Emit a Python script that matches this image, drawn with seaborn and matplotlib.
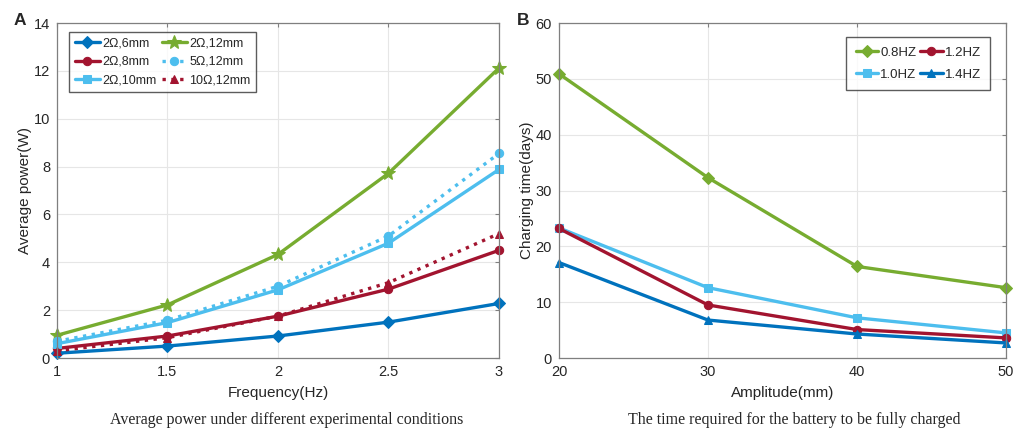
import numpy as np
import pandas as pd
import matplotlib
matplotlib.use("Agg")
import matplotlib.pyplot as plt
import seaborn as sns

# ---- data ----
freq = [1, 1.5, 2, 2.5, 3]
p_2ohm_6mm = [0.2, 0.5, 0.92, 1.5, 2.28]
p_2ohm_8mm = [0.4, 0.92, 1.75, 2.88, 4.5]
p_2ohm_10mm = [0.6, 1.48, 2.85, 4.8, 7.88]
p_2ohm_12mm = [0.95, 2.22, 4.33, 7.72, 12.12]
p_5ohm_12mm = [0.7, 1.58, 3.0, 5.1, 8.55]
p_10ohm_12mm = [0.3, 0.85, 1.75, 3.15, 5.2]

amplitude = [20, 30, 40, 50]
t_08hz = [50.9, 32.3, 16.4, 12.6]
t_10hz = [23.3, 12.6, 7.2, 4.5]
t_12hz = [23.2, 9.5, 5.1, 3.6]
t_14hz = [17.1, 6.8, 4.3, 2.7]

BLUE = "#0072BD"
RED = "#A2142F"
LBLUE = "#4DBEEE"
GREEN = "#77AC30"

sns.set_style("whitegrid")
plt.rcParams["font.family"] = ["Liberation Sans", "DejaVu Sans"]
plt.rcParams["xtick.direction"] = "in"
plt.rcParams["ytick.direction"] = "in"

fig = plt.figure(figsize=(10.14, 4.30), dpi=100)
axA = fig.add_axes([0.0562, 0.1674, 0.4359, 0.779])
axB = fig.add_axes([0.5513, 0.1674, 0.4408, 0.779])

# panel A
seriesA = [
    ("2Ω,6mm", p_2ohm_6mm, BLUE, "D", "-"),
    ("2Ω,8mm", p_2ohm_8mm, RED, "o", "-"),
    ("2Ω,10mm", p_2ohm_10mm, LBLUE, "s", "-"),
    ("2Ω,12mm", p_2ohm_12mm, GREEN, "*", "-"),
    ("5Ω,12mm", p_5ohm_12mm, LBLUE, "o", ":"),
    ("10Ω,12mm", p_10ohm_12mm, RED, "^", ":"),
]
for name, vals, col, mk, ls in seriesA:
    ms = 10 if mk == "*" else 6
    sns.lineplot(x=freq, y=vals, ax=axA, color=col, marker=mk, linestyle=ls,
                 linewidth=2.4, markersize=ms, markeredgecolor=col, label=name,
                 clip_on=False)

axA.set_xlim(1, 3)
axA.set_ylim(0, 14)
axA.set_xticks([1, 1.5, 2, 2.5, 3])
axA.set_xticklabels(["1", "1.5", "2", "2.5", "3"])
axA.set_yticks(range(0, 15, 2))
axA.set_xlabel("Frequency(Hz)", fontsize=11, color="#262626", labelpad=5)
axA.set_ylabel("Average power(W)", fontsize=11, color="#262626", labelpad=1)
axA.legend(loc="upper left", ncol=2, fontsize=9, frameon=True, fancybox=False,
           edgecolor="#333333", handlelength=2.0, handletextpad=0.2,
           columnspacing=0.45, labelspacing=0.5, borderpad=0.45,
           borderaxespad=0, bbox_to_anchor=(0.027, 0.973))

# panel B
seriesB = [
    ("0.8HZ", t_08hz, GREEN, "D"),
    ("1.0HZ", t_10hz, LBLUE, "s"),
    ("1.2HZ", t_12hz, RED, "o"),
    ("1.4HZ", t_14hz, BLUE, "^"),
]
for name, vals, col, mk in seriesB:
    sns.lineplot(x=amplitude, y=vals, ax=axB, color=col, marker=mk,
                 linewidth=2.4, markersize=6, markeredgecolor=col, label=name,
                 clip_on=False)

axB.set_xlim(20, 50)
axB.set_ylim(0, 60)
axB.set_xticks(amplitude)
axB.set_yticks(range(0, 61, 10))
axB.set_xlabel("Amplitude(mm)", fontsize=11, color="#262626", labelpad=5)
axB.set_ylabel("Charging time(days)", fontsize=11, color="#262626", labelpad=1)
axB.legend(loc="upper right", ncol=2, fontsize=9.5, frameon=True, fancybox=False,
           edgecolor="#333333", handlelength=1.7, handletextpad=0.15,
           columnspacing=0.3, labelspacing=0.75, borderpad=0.7,
           borderaxespad=0, bbox_to_anchor=(0.964, 0.958))

for ax in (axA, axB):
    ax.grid(True, color="#e6e6e6", linewidth=0.8)
    for sp in ax.spines.values():
        sp.set_color("#7f7f7f")
        sp.set_linewidth(0.9)
    ax.tick_params(axis="both", labelsize=10.5, colors="#262626", length=3,
                   top=True, right=True, color="#7f7f7f", pad=5)

fig.text(0.02, 0.953, "A", fontsize=12.5, fontweight="bold", va="center", ha="center")
fig.text(0.516, 0.953, "B", fontsize=12.5, fontweight="bold", va="center", ha="center")

fig.text(0.283, 0.023, "Average power under different experimental conditions",
         fontsize=11.5, family=["Liberation Serif", "DejaVu Serif"], ha="center", va="center")
fig.text(0.783, 0.023, "The time required for the battery to be fully charged",
         fontsize=11.5, family=["Liberation Serif", "DejaVu Serif"], ha="center", va="center")

fig.savefig("out.png", dpi=100)
